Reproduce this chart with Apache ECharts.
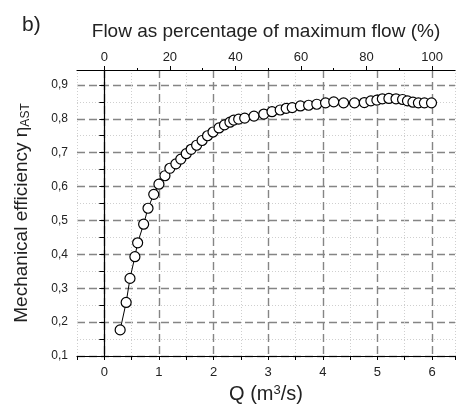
<!DOCTYPE html>
<html>
<head>
<meta charset="utf-8">
<script src="https://cdn.jsdelivr.net/npm/echarts@6/dist/echarts.min.js"></script>
<style>
  html, body { margin: 0; padding: 0; background: #fff; }
  #chart { width: 456px; height: 404px; }
</style>
</head>
<body>
<div id="chart"></div>
<script>
// Q (m3/s) and mechanical efficiency
var qValues = [0.29, 0.40, 0.47, 0.56, 0.61, 0.72, 0.80, 0.905, 1.00, 1.11, 1.20, 1.31, 1.40, 1.50, 1.59, 1.69,
  1.79, 1.89, 1.99, 2.10, 2.20, 2.30, 2.37, 2.46, 2.57, 2.74, 2.92, 3.07, 3.22, 3.33, 3.44, 3.59, 3.74, 3.89,
  4.05, 4.20, 4.38, 4.58, 4.76, 4.88, 4.99, 5.09, 5.21, 5.34, 5.46, 5.55, 5.65, 5.75, 5.86, 5.99];
var etaValues = [0.177, 0.258, 0.329, 0.393, 0.434, 0.489, 0.536, 0.577, 0.607, 0.632, 0.654, 0.667, 0.681, 0.697,
  0.710, 0.722, 0.736, 0.750, 0.761, 0.773, 0.782, 0.790, 0.796, 0.799, 0.802, 0.808, 0.814, 0.821, 0.826, 0.831,
  0.833, 0.838, 0.840, 0.843, 0.847, 0.850, 0.847, 0.847, 0.848, 0.853, 0.855, 0.859, 0.860, 0.859, 0.857, 0.853,
  0.849, 0.847, 0.847, 0.847];

var qTicks = [0, 1, 2, 3, 4, 5, 6];
var pctTicks = [0, 20, 40, 60, 80, 100];
var pctMinorTicks = [10, 30, 50, 70, 90];

var Q_MIN = -0.5, Q_MAX = 6.42, Q_FULL = 6;
var ETA_MIN = 0.1, ETA_MAX = 0.944;

var font = 'Liberation Sans, Arial, sans-serif';
var txt = '#222';
var none = 'rgba(0,0,0,0)';
var major = { type: [8, 4], width: 1.4 };
var minor = { type: [1, 2], width: 1 };

var chart = echarts.init(document.getElementById('chart'));

var hidden = { show: false };
var option = {
  backgroundColor: '#fff',
  animation: false,
  grid: { left: 77, right: 1, top: 70, bottom: 48, outerBoundsMode: 'none' },
  graphic: [{
    type: 'text', left: 22, top: 15,
    style: { text: 'b)', fontSize: 21, fontFamily: font, fill: txt }
  }],
  xAxis: [
    {
      type: 'value', position: 'bottom', min: Q_MIN, max: Q_MAX, interval: 0.5,
      name: 'Q (m{sup|3}/s)', nameLocation: 'middle', nameGap: 26,
      nameTextStyle: {
        fontSize: 20, fontFamily: font, color: txt,
        rich: { sup: { fontSize: 13, fontFamily: font, color: txt, verticalAlign: 'top', padding: [0, 0, 8, 0] } }
      },
      axisLine: { lineStyle: { color: '#000', width: 1.2 } },
      axisTick: { length: 4, lineStyle: { color: '#000' } },
      axisLabel: {
        margin: 10, fontSize: 13, fontFamily: font, color: txt,
        formatter: function (v) { return qTicks.indexOf(Math.round(v * 100) / 100) >= 0 ? String(Math.round(v)) : ''; }
      },
      splitLine: { show: true, lineStyle: { color: [none, '#858585'], type: major.type, width: major.width } }
    },
    {
      type: 'value', position: 'bottom', min: Q_MIN, max: Q_MAX, interval: 0.5,
      axisLine: hidden, axisTick: hidden, axisLabel: hidden,
      splitLine: { show: true, lineStyle: { color: ['#cfcfcf', none], type: minor.type, width: minor.width } }
    },
    {
      type: 'value', position: 'top', min: Q_MIN / Q_FULL * 100, max: Q_MAX / Q_FULL * 100,
      name: 'Flow as percentage of maximum flow (%)', nameLocation: 'middle', nameGap: 29,
      nameTextStyle: { fontSize: 19, fontFamily: font, color: txt },
      axisLine: { lineStyle: { color: '#000', width: 1.2 } },
      axisTick: { length: 4, customValues: pctTicks, lineStyle: { color: '#000' } },
      axisLabel: { customValues: pctTicks, margin: 6, fontSize: 13, fontFamily: font, color: txt },
      splitLine: hidden
    },
    {
      type: 'value', position: 'top', min: Q_MIN / Q_FULL * 100, max: Q_MAX / Q_FULL * 100,
      axisLine: hidden, axisLabel: hidden, splitLine: hidden,
      axisTick: { length: 2, customValues: pctMinorTicks, lineStyle: { color: '#000' } }
    }
  ],
  yAxis: [
    {
      type: 'value', min: ETA_MIN, max: ETA_MAX, interval: 0.05,
      name: 'Mechanical efficiency η{sub|AST}', nameLocation: 'middle', nameGap: 45,
      nameTextStyle: {
        fontSize: 19, fontFamily: font, color: txt,
        rich: { sub: { fontSize: 12, fontFamily: font, color: txt, verticalAlign: 'bottom', padding: [9, 0, 0, 0] } }
      },
      axisLine: { show: true, lineStyle: { color: '#000', width: 1.2 } },
      axisTick: { length: 5, lineStyle: { color: '#000' } },
      axisLabel: {
        margin: 9, fontSize: 12, fontFamily: font, color: txt,
        formatter: function (v) {
          var k = Math.round(v * 100);
          return k % 10 === 0 ? (k / 100).toFixed(1).replace('.', ',') : '';
        }
      },
      splitLine: { show: true, lineStyle: { color: ['#858585', none], type: major.type, width: major.width } }
    },
    {
      type: 'value', min: ETA_MIN, max: ETA_MAX, interval: 0.05, position: 'left',
      axisLine: hidden, axisTick: hidden, axisLabel: hidden,
      splitLine: { show: true, lineStyle: { color: [none, '#cfcfcf'], type: minor.type, width: minor.width } }
    }
  ],
  series: [{
    type: 'line',
    xAxisIndex: 0, yAxisIndex: 0,
    data: qValues.map(function (q, i) { return [q, etaValues[i]]; }),
    symbol: 'circle', symbolSize: 10,
    lineStyle: { color: '#000', width: 1 },
    itemStyle: { color: '#fff', borderColor: '#000', borderWidth: 1.2 },
    z: 5
  }]
};
chart.setOption(option);
</script>
</body>
</html>
